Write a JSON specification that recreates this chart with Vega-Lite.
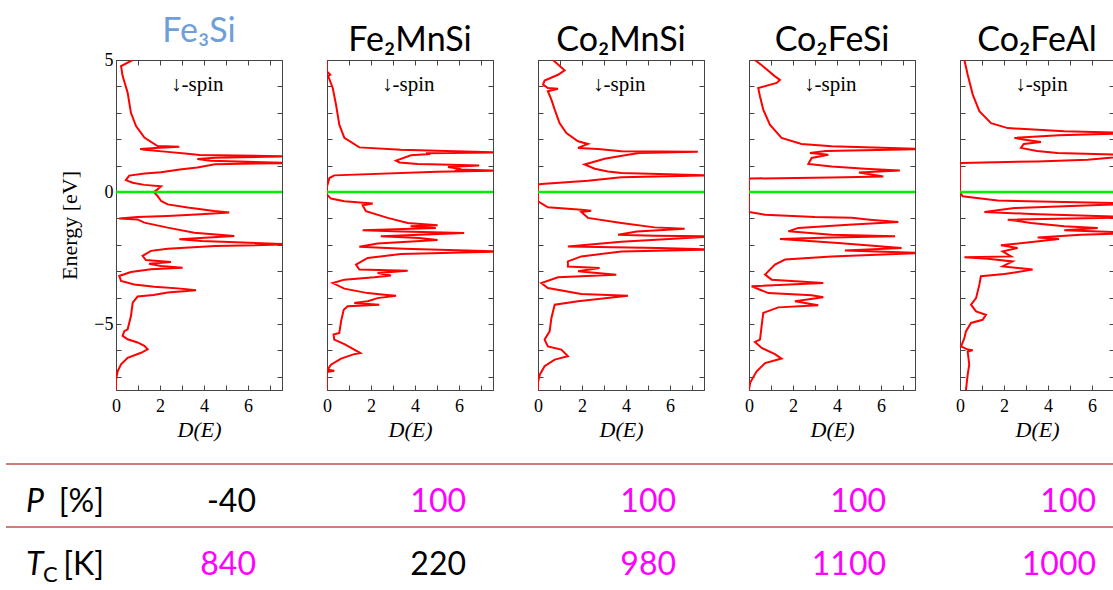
{
"$schema": "https://vega.github.io/schema/vega-lite/v6.json",
"background": "white",
"padding": {"left": 5, "top": 14, "right": 0, "bottom": 0},
"spacing": 22,
"config": {
  "view": {"stroke": "#444", "strokeWidth": 1},
  "axis": {"domainColor": "#444", "tickColor": "#444", "tickSize": -5, "grid": false, "labelFont": "Liberation Serif", "labelFontSize": 18, "labelColor": "#000", "titleFont": "Liberation Serif", "titleFontWeight": "normal", "titleColor": "#000", "labelFlush": false, "labelOverlap": false},
  "title": {"font": "Lato", "fontSize": 34, "fontWeight": "normal", "color": "#000", "frame": "group", "anchor": "middle", "offset": 2}
},
"datasets": {
  "fe3si": [{"D":0.76,"E":5.0},{"D":0.23,"E":4.77},{"D":0.3,"E":4.4},{"D":0.53,"E":3.76},{"D":0.68,"E":3.0},{"D":0.91,"E":2.5},{"D":1.29,"E":2.06},{"D":1.89,"E":1.74},{"D":2.88,"E":1.71},{"D":1.8,"E":1.67},{"D":1.1,"E":1.63},{"D":1.3,"E":1.6},{"D":2.35,"E":1.52},{"D":3.26,"E":1.45},{"D":3.8,"E":1.4},{"D":8,"E":1.35},{"D":4.5,"E":1.3},{"D":3.7,"E":1.25},{"D":4.3,"E":1.18},{"D":8,"E":1.1},{"D":4.5,"E":1.05},{"D":3.7,"E":0.93},{"D":2.9,"E":0.85},{"D":2.05,"E":0.75},{"D":1.3,"E":0.7},{"D":0.6,"E":0.62},{"D":0.45,"E":0.45},{"D":0.76,"E":0.35},{"D":1.29,"E":0.27},{"D":2.05,"E":0.22},{"D":1.89,"E":0.1},{"D":1.72,"E":0.0},{"D":1.89,"E":-0.15},{"D":2.05,"E":-0.34},{"D":2.35,"E":-0.47},{"D":3.26,"E":-0.59},{"D":4.47,"E":-0.72},{"D":5.15,"E":-0.78},{"D":3.86,"E":-0.84},{"D":2.35,"E":-0.91},{"D":0.98,"E":-0.95},{"D":0.15,"E":-1.0},{"D":0.98,"E":-1.04},{"D":1.29,"E":-1.16},{"D":2.35,"E":-1.35},{"D":3.56,"E":-1.54},{"D":5.38,"E":-1.67},{"D":4.02,"E":-1.73},{"D":2.88,"E":-1.79},{"D":3.9,"E":-1.86},{"D":8,"E":-1.98},{"D":4.5,"E":-2.05},{"D":2.35,"E":-2.15},{"D":1.59,"E":-2.23},{"D":1.21,"E":-2.42},{"D":1.36,"E":-2.58},{"D":2.5,"E":-2.65},{"D":1.5,"E":-2.72},{"D":2.05,"E":-2.8},{"D":3.03,"E":-2.87},{"D":1.59,"E":-2.93},{"D":0.68,"E":-3.03},{"D":0.15,"E":-3.18},{"D":0.23,"E":-3.37},{"D":0.83,"E":-3.5},{"D":1.74,"E":-3.59},{"D":2.95,"E":-3.66},{"D":3.64,"E":-3.72},{"D":2.35,"E":-3.81},{"D":1.7,"E":-3.9},{"D":0.98,"E":-3.96},{"D":0.76,"E":-4.19},{"D":0.68,"E":-4.7},{"D":0.53,"E":-5.2},{"D":0.38,"E":-5.27},{"D":0.3,"E":-5.45},{"D":0.53,"E":-5.58},{"D":0.98,"E":-5.7},{"D":1.29,"E":-5.83},{"D":1.44,"E":-5.96},{"D":1.14,"E":-6.09},{"D":0.53,"E":-6.28},{"D":0.23,"E":-6.53},{"D":0.08,"E":-6.78},{"D":0,"E":-7.1},{"D":0,"E":-7.5}],
  "fe2mnsi": [{"D":0,"E":5.0},{"D":0,"E":4.57},{"D":0.15,"E":4.44},{"D":0.05,"E":4.4},{"D":0.26,"E":3.94},{"D":0.41,"E":3.31},{"D":0.56,"E":2.55},{"D":0.79,"E":2.05},{"D":1.47,"E":1.69},{"D":3.36,"E":1.6},{"D":8,"E":1.5},{"D":4.5,"E":1.47},{"D":4.7,"E":1.44},{"D":3.82,"E":1.39},{"D":3.14,"E":1.19},{"D":3.3,"E":1.12},{"D":4.12,"E":1.06},{"D":5.18,"E":1.04},{"D":6.92,"E":1.0},{"D":5.5,"E":0.95},{"D":6.0,"E":0.88},{"D":5.94,"E":0.85},{"D":8,"E":0.81},{"D":5,"E":0.77},{"D":0.33,"E":0.63},{"D":0.11,"E":0.53},{"D":0,"E":0.21},{"D":0,"E":-0.1},{"D":0.18,"E":-0.25},{"D":0.79,"E":-0.35},{"D":2.08,"E":-0.44},{"D":1.62,"E":-0.5},{"D":1.77,"E":-0.73},{"D":2.76,"E":-0.98},{"D":3.67,"E":-1.17},{"D":5.03,"E":-1.26},{"D":3.8,"E":-1.3},{"D":4.95,"E":-1.36},{"D":1.62,"E":-1.45},{"D":3.4,"E":-1.5},{"D":6.24,"E":-1.55},{"D":2.45,"E":-1.68},{"D":4.2,"E":-1.74},{"D":5.03,"E":-1.82},{"D":2.3,"E":-1.95},{"D":1.47,"E":-2.07},{"D":3.5,"E":-2.15},{"D":8,"E":-2.25},{"D":3.36,"E":-2.35},{"D":1.85,"E":-2.5},{"D":1.32,"E":-2.75},{"D":1.47,"E":-2.94},{"D":3.67,"E":-2.98},{"D":2.3,"E":-3.07},{"D":2.91,"E":-3.16},{"D":2.15,"E":-3.23},{"D":0.79,"E":-3.32},{"D":0.26,"E":-3.45},{"D":0.79,"E":-3.66},{"D":1.85,"E":-3.83},{"D":2.61,"E":-3.89},{"D":3.14,"E":-3.93},{"D":2.3,"E":-4.02},{"D":1.85,"E":-4.14},{"D":1.24,"E":-4.2},{"D":2.38,"E":-4.27},{"D":0.94,"E":-4.33},{"D":0.76,"E":-4.46},{"D":0.64,"E":-4.9},{"D":0.56,"E":-5.34},{"D":0.3,"E":-5.4},{"D":0.33,"E":-5.59},{"D":0.79,"E":-5.76},{"D":1.24,"E":-5.97},{"D":1.52,"E":-6.1},{"D":1.2,"E":-6.15},{"D":0.64,"E":-6.31},{"D":0.18,"E":-6.54},{"D":0.03,"E":-6.73},{"D":0.33,"E":-6.77},{"D":0,"E":-6.82},{"D":0,"E":-7.5}],
  "co2mnsi": [{"D":0.68,"E":5.0},{"D":1.21,"E":4.61},{"D":0.91,"E":4.44},{"D":0.3,"E":4.22},{"D":0.23,"E":4.07},{"D":0.45,"E":3.94},{"D":0.91,"E":3.91},{"D":0.45,"E":3.82},{"D":0.61,"E":3.5},{"D":0.76,"E":3.12},{"D":0.98,"E":2.61},{"D":1.29,"E":2.23},{"D":1.82,"E":1.92},{"D":2.27,"E":1.82},{"D":1.82,"E":1.67},{"D":2.73,"E":1.63},{"D":3.79,"E":1.54},{"D":7.27,"E":1.52},{"D":4.62,"E":1.48},{"D":4.09,"E":1.41},{"D":3.03,"E":1.26},{"D":2.12,"E":1.04},{"D":2.58,"E":0.88},{"D":3.18,"E":0.78},{"D":3.79,"E":0.72},{"D":5.5,"E":0.68},{"D":8,"E":0.63},{"D":3.79,"E":0.56},{"D":2.27,"E":0.43},{"D":0.15,"E":0.3},{"D":0,"E":0.28},{"D":0,"E":-0.35},{"D":0.45,"E":-0.58},{"D":1.97,"E":-0.67},{"D":2.42,"E":-0.71},{"D":1.97,"E":-0.76},{"D":2.27,"E":-0.98},{"D":3.79,"E":-1.17},{"D":5.3,"E":-1.34},{"D":6.67,"E":-1.39},{"D":4.5,"E":-1.5},{"D":3.64,"E":-1.62},{"D":5.3,"E":-1.66},{"D":8,"E":-1.68},{"D":3.79,"E":-1.88},{"D":1.36,"E":-2.06},{"D":5.5,"E":-2.12},{"D":8,"E":-2.18},{"D":3.79,"E":-2.25},{"D":1.97,"E":-2.44},{"D":1.36,"E":-2.63},{"D":1.36,"E":-2.82},{"D":2.8,"E":-2.88},{"D":1.82,"E":-3.0},{"D":3.56,"E":-3.13},{"D":0.91,"E":-3.23},{"D":0.15,"E":-3.45},{"D":0.45,"E":-3.64},{"D":1.97,"E":-3.86},{"D":4.09,"E":-3.93},{"D":1.82,"E":-4.14},{"D":0.76,"E":-4.27},{"D":0.61,"E":-4.77},{"D":0.53,"E":-5.28},{"D":0.3,"E":-5.59},{"D":0.45,"E":-5.85},{"D":1.06,"E":-5.97},{"D":1.36,"E":-6.22},{"D":0.76,"E":-6.35},{"D":0.3,"E":-6.6},{"D":0.08,"E":-6.92},{"D":0,"E":-7.2},{"D":0,"E":-7.5}],
  "co2fesi": [{"D":0.27,"E":5.0},{"D":0.73,"E":4.7},{"D":1.18,"E":4.38},{"D":1.41,"E":4.25},{"D":1.26,"E":4.13},{"D":0.42,"E":3.94},{"D":0.5,"E":3.62},{"D":0.65,"E":3.12},{"D":0.95,"E":2.55},{"D":1.48,"E":2.05},{"D":2.39,"E":1.82},{"D":3.76,"E":1.73},{"D":8,"E":1.63},{"D":3.5,"E":1.55},{"D":2.77,"E":1.48},{"D":3.61,"E":1.41},{"D":2.85,"E":1.29},{"D":2.7,"E":1.06},{"D":3.76,"E":0.97},{"D":5.27,"E":0.88},{"D":6.86,"E":0.81},{"D":5.0,"E":0.74},{"D":6.11,"E":0.59},{"D":3.76,"E":0.55},{"D":0.05,"E":0.51},{"D":0,"E":0.47},{"D":0,"E":-0.76},{"D":0.73,"E":-0.86},{"D":3.0,"E":-0.95},{"D":4.67,"E":-0.98},{"D":5.5,"E":-1.05},{"D":6.79,"E":-1.14},{"D":4.52,"E":-1.24},{"D":2.24,"E":-1.36},{"D":1.79,"E":-1.49},{"D":3.76,"E":-1.62},{"D":6.64,"E":-1.68},{"D":3.76,"E":-1.72},{"D":1.41,"E":-1.78},{"D":4.06,"E":-1.93},{"D":6.94,"E":-2.12},{"D":4.36,"E":-2.22},{"D":8,"E":-2.31},{"D":3.76,"E":-2.44},{"D":1.64,"E":-2.56},{"D":1.18,"E":-2.75},{"D":0.73,"E":-3.13},{"D":1.03,"E":-3.32},{"D":3.38,"E":-3.45},{"D":0.12,"E":-3.57},{"D":0.88,"E":-3.83},{"D":2.85,"E":-3.91},{"D":3.38,"E":-3.99},{"D":2.09,"E":-4.14},{"D":3.15,"E":-4.29},{"D":1.33,"E":-4.37},{"D":0.65,"E":-4.58},{"D":0.58,"E":-5.03},{"D":0.5,"E":-5.59},{"D":0.27,"E":-5.68},{"D":0.58,"E":-5.91},{"D":1.18,"E":-6.14},{"D":1.48,"E":-6.31},{"D":0.73,"E":-6.48},{"D":0.35,"E":-6.79},{"D":0.05,"E":-7.23},{"D":0,"E":-7.5}],
  "co2feal": [{"D":0.2,"E":5.0},{"D":0.35,"E":4.44},{"D":0.58,"E":3.69},{"D":0.88,"E":3.06},{"D":1.41,"E":2.61},{"D":2.17,"E":2.42},{"D":4.74,"E":2.3},{"D":8,"E":2.23},{"D":4.5,"E":2.15},{"D":2.47,"E":2.05},{"D":2.8,"E":2.0},{"D":3.68,"E":1.89},{"D":2.9,"E":1.82},{"D":2.77,"E":1.67},{"D":3.5,"E":1.55},{"D":4.44,"E":1.48},{"D":8,"E":1.39},{"D":5.8,"E":1.22},{"D":3.5,"E":1.16},{"D":0.08,"E":1.1},{"D":0,"E":1.06},{"D":0,"E":0},{"D":0.12,"E":-0.16},{"D":1.71,"E":-0.32},{"D":4.74,"E":-0.38},{"D":8,"E":-0.44},{"D":2.47,"E":-0.61},{"D":1.11,"E":-0.76},{"D":3.23,"E":-0.83},{"D":8,"E":-0.96},{"D":2.17,"E":-1.05},{"D":3.23,"E":-1.17},{"D":4.74,"E":-1.3},{"D":6.26,"E":-1.36},{"D":4.74,"E":-1.45},{"D":8,"E":-1.55},{"D":5.5,"E":-1.62},{"D":3.53,"E":-1.72},{"D":4.5,"E":-1.78},{"D":1.86,"E":-2.02},{"D":2.62,"E":-2.12},{"D":1.94,"E":-2.25},{"D":2.32,"E":-2.44},{"D":0.2,"E":-2.47},{"D":1.26,"E":-2.53},{"D":2.39,"E":-2.63},{"D":1.94,"E":-2.82},{"D":3.3,"E":-2.94},{"D":2.02,"E":-3.11},{"D":0.95,"E":-3.19},{"D":0.88,"E":-3.51},{"D":0.73,"E":-4.02},{"D":0.5,"E":-4.27},{"D":0.73,"E":-4.52},{"D":1.18,"E":-4.65},{"D":1.03,"E":-4.84},{"D":0.5,"E":-4.96},{"D":0.27,"E":-5.28},{"D":0.2,"E":-5.53},{"D":0.05,"E":-5.85},{"D":0.35,"E":-5.97},{"D":0.58,"E":-5.99},{"D":0.35,"E":-6.05},{"D":0.42,"E":-6.54},{"D":0.35,"E":-6.92},{"D":0.27,"E":-7.5}],
  "values": [{"row":"P","col":"Fe3Si","value":"-40","emphasis":"no"},{"row":"P","col":"Fe2MnSi","value":"100","emphasis":"yes"},{"row":"P","col":"Co2MnSi","value":"100","emphasis":"yes"},{"row":"P","col":"Co2FeSi","value":"100","emphasis":"yes"},{"row":"P","col":"Co2FeAl","value":"100","emphasis":"yes"},{"row":"T","col":"Fe3Si","value":"840","emphasis":"yes"},{"row":"T","col":"Fe2MnSi","value":"220","emphasis":"no"},{"row":"T","col":"Co2MnSi","value":"980","emphasis":"yes"},{"row":"T","col":"Co2FeSi","value":"1100","emphasis":"yes"},{"row":"T","col":"Co2FeAl","value":"1000","emphasis":"yes"}],
  "rowlabels": [{"row":"P","col":"label","symbol":"P","sub":"","unit":"[%]"},{"row":"T","col":"label","symbol":"T","sub":"C","unit":"[K]"}]
},
"vconcat": [
{"bounds": "flush", "spacing": 45, "hconcat": [
  {"width": 65, "height": 330, "view": {"stroke": null}, "data": {"values": []}, "mark": "point"},
  {"width": 166, "height": 330, "title": {"text": "Fe₃Si", "color": "#6f9fd8"},
   "layer": [
    {"data": {"name": "fe3si"}, "mark": {"type": "line", "color": "#ff0000", "strokeWidth": 2, "clip": true},
     "encoding": {"x": {"field": "D", "type": "quantitative", "scale": {"domain": [0, 7.55], "nice": false, "zero": false}, "axis": {"orient": "bottom", "values": [0,1,2,3,4,5,6,7], "labelExpr": "datum.value % 2 === 0 ? datum.label : ''", "title": "D(E)", "titleFontStyle": "italic", "titleFontSize": 22, "labelPadding": 12, "titlePadding": 4}},
       "y": {"field": "E", "type": "quantitative", "scale": {"domain": [-7.5, 5], "nice": false, "zero": false}, "axis": {"orient": "left", "values": [-7,-6,-5,-4,-3,-2,-1,0,1,2,3,4,5], "labelExpr": "datum.value % 5 === 0 ? (datum.value < 0 ? '−' + abs(datum.value) : datum.label) : ''", "title": "Energy [eV]", "titleFontSize": 22, "labelPadding": 8, "titlePadding": 12}},
       "order": {"value": null}}},
    {"data": {"values": [{"E": 0}]}, "mark": {"type": "rule", "color": "#00ee00", "strokeWidth": 2.5},
     "encoding": {"y": {"field": "E", "type": "quantitative", "scale": {"domain": [-7.5, 5], "nice": false, "zero": false}, "axis": null}}},
    {"data": {"values": [{"label": "↓-spin"}]}, "mark": {"type": "text", "font": "Liberation Serif", "fontSize": 21, "color": "#000"},
     "encoding": {"x": {"datum": 3.7, "type": "quantitative", "scale": {"domain": [0, 7.55], "nice": false, "zero": false}, "axis": {"orient": "top", "values": [0,1,2,3,4,5,6,7], "labels": false, "title": null}},
       "y": {"datum": 4.05, "type": "quantitative", "scale": {"domain": [-7.5, 5], "nice": false, "zero": false}, "axis": {"orient": "right", "values": [-7,-6,-5,-4,-3,-2,-1,0,1,2,3,4,5], "labels": false, "title": null}},
       "text": {"field": "label"}}}
   ],
   "resolve": {"axis": {"x": "independent", "y": "independent"}}},
  {"width": 166, "height": 330, "title": {"text": "Fe₂MnSi"},
   "layer": [
    {"data": {"name": "fe2mnsi"}, "mark": {"type": "line", "color": "#ff0000", "strokeWidth": 2, "clip": true},
     "encoding": {"x": {"field": "D", "type": "quantitative", "scale": {"domain": [0, 7.55], "nice": false, "zero": false}, "axis": {"orient": "bottom", "values": [0,1,2,3,4,5,6,7], "labelExpr": "datum.value % 2 === 0 ? datum.label : ''", "title": "D(E)", "titleFontStyle": "italic", "titleFontSize": 22, "labelPadding": 12, "titlePadding": 4}},
       "y": {"field": "E", "type": "quantitative", "scale": {"domain": [-7.5, 5], "nice": false, "zero": false}, "axis": {"orient": "left", "values": [-7,-6,-5,-4,-3,-2,-1,0,1,2,3,4,5], "labels": false, "title": null}},
       "order": {"value": null}}},
    {"data": {"values": [{"E": 0}]}, "mark": {"type": "rule", "color": "#00ee00", "strokeWidth": 2.5},
     "encoding": {"y": {"field": "E", "type": "quantitative", "scale": {"domain": [-7.5, 5], "nice": false, "zero": false}, "axis": null}}},
    {"data": {"values": [{"label": "↓-spin"}]}, "mark": {"type": "text", "font": "Liberation Serif", "fontSize": 21, "color": "#000"},
     "encoding": {"x": {"datum": 3.7, "type": "quantitative", "scale": {"domain": [0, 7.55], "nice": false, "zero": false}, "axis": {"orient": "top", "values": [0,1,2,3,4,5,6,7], "labels": false, "title": null}},
       "y": {"datum": 4.05, "type": "quantitative", "scale": {"domain": [-7.5, 5], "nice": false, "zero": false}, "axis": {"orient": "right", "values": [-7,-6,-5,-4,-3,-2,-1,0,1,2,3,4,5], "labels": false, "title": null}},
       "text": {"field": "label"}}}
   ],
   "resolve": {"axis": {"x": "independent", "y": "independent"}}},
  {"width": 166, "height": 330, "title": {"text": "Co₂MnSi"},
   "layer": [
    {"data": {"name": "co2mnsi"}, "mark": {"type": "line", "color": "#ff0000", "strokeWidth": 2, "clip": true},
     "encoding": {"x": {"field": "D", "type": "quantitative", "scale": {"domain": [0, 7.55], "nice": false, "zero": false}, "axis": {"orient": "bottom", "values": [0,1,2,3,4,5,6,7], "labelExpr": "datum.value % 2 === 0 ? datum.label : ''", "title": "D(E)", "titleFontStyle": "italic", "titleFontSize": 22, "labelPadding": 12, "titlePadding": 4}},
       "y": {"field": "E", "type": "quantitative", "scale": {"domain": [-7.5, 5], "nice": false, "zero": false}, "axis": {"orient": "left", "values": [-7,-6,-5,-4,-3,-2,-1,0,1,2,3,4,5], "labels": false, "title": null}},
       "order": {"value": null}}},
    {"data": {"values": [{"E": 0}]}, "mark": {"type": "rule", "color": "#00ee00", "strokeWidth": 2.5},
     "encoding": {"y": {"field": "E", "type": "quantitative", "scale": {"domain": [-7.5, 5], "nice": false, "zero": false}, "axis": null}}},
    {"data": {"values": [{"label": "↓-spin"}]}, "mark": {"type": "text", "font": "Liberation Serif", "fontSize": 21, "color": "#000"},
     "encoding": {"x": {"datum": 3.7, "type": "quantitative", "scale": {"domain": [0, 7.55], "nice": false, "zero": false}, "axis": {"orient": "top", "values": [0,1,2,3,4,5,6,7], "labels": false, "title": null}},
       "y": {"datum": 4.05, "type": "quantitative", "scale": {"domain": [-7.5, 5], "nice": false, "zero": false}, "axis": {"orient": "right", "values": [-7,-6,-5,-4,-3,-2,-1,0,1,2,3,4,5], "labels": false, "title": null}},
       "text": {"field": "label"}}}
   ],
   "resolve": {"axis": {"x": "independent", "y": "independent"}}},
  {"width": 166, "height": 330, "title": {"text": "Co₂FeSi"},
   "layer": [
    {"data": {"name": "co2fesi"}, "mark": {"type": "line", "color": "#ff0000", "strokeWidth": 2, "clip": true},
     "encoding": {"x": {"field": "D", "type": "quantitative", "scale": {"domain": [0, 7.55], "nice": false, "zero": false}, "axis": {"orient": "bottom", "values": [0,1,2,3,4,5,6,7], "labelExpr": "datum.value % 2 === 0 ? datum.label : ''", "title": "D(E)", "titleFontStyle": "italic", "titleFontSize": 22, "labelPadding": 12, "titlePadding": 4}},
       "y": {"field": "E", "type": "quantitative", "scale": {"domain": [-7.5, 5], "nice": false, "zero": false}, "axis": {"orient": "left", "values": [-7,-6,-5,-4,-3,-2,-1,0,1,2,3,4,5], "labels": false, "title": null}},
       "order": {"value": null}}},
    {"data": {"values": [{"E": 0}]}, "mark": {"type": "rule", "color": "#00ee00", "strokeWidth": 2.5},
     "encoding": {"y": {"field": "E", "type": "quantitative", "scale": {"domain": [-7.5, 5], "nice": false, "zero": false}, "axis": null}}},
    {"data": {"values": [{"label": "↓-spin"}]}, "mark": {"type": "text", "font": "Liberation Serif", "fontSize": 21, "color": "#000"},
     "encoding": {"x": {"datum": 3.7, "type": "quantitative", "scale": {"domain": [0, 7.55], "nice": false, "zero": false}, "axis": {"orient": "top", "values": [0,1,2,3,4,5,6,7], "labels": false, "title": null}},
       "y": {"datum": 4.05, "type": "quantitative", "scale": {"domain": [-7.5, 5], "nice": false, "zero": false}, "axis": {"orient": "right", "values": [-7,-6,-5,-4,-3,-2,-1,0,1,2,3,4,5], "labels": false, "title": null}},
       "text": {"field": "label"}}}
   ],
   "resolve": {"axis": {"x": "independent", "y": "independent"}}},
  {"width": 154, "height": 330, "title": {"text": "Co₂FeAl"},
   "layer": [
    {"data": {"name": "co2feal"}, "mark": {"type": "line", "color": "#ff0000", "strokeWidth": 2, "clip": true},
     "encoding": {"x": {"field": "D", "type": "quantitative", "scale": {"domain": [0, 7.0], "nice": false, "zero": false}, "axis": {"orient": "bottom", "values": [0,1,2,3,4,5,6,7], "labelExpr": "datum.value % 2 === 0 ? datum.label : ''", "title": "D(E)", "titleFontStyle": "italic", "titleFontSize": 22, "labelPadding": 12, "titlePadding": 4}},
       "y": {"field": "E", "type": "quantitative", "scale": {"domain": [-7.5, 5], "nice": false, "zero": false}, "axis": {"orient": "left", "values": [-7,-6,-5,-4,-3,-2,-1,0,1,2,3,4,5], "labels": false, "title": null}},
       "order": {"value": null}}},
    {"data": {"values": [{"E": 0}]}, "mark": {"type": "rule", "color": "#00ee00", "strokeWidth": 2.5},
     "encoding": {"y": {"field": "E", "type": "quantitative", "scale": {"domain": [-7.5, 5], "nice": false, "zero": false}, "axis": null}}},
    {"data": {"values": [{"label": "↓-spin"}]}, "mark": {"type": "text", "font": "Liberation Serif", "fontSize": 21, "color": "#000"},
     "encoding": {"x": {"datum": 3.7, "type": "quantitative", "scale": {"domain": [0, 7.0], "nice": false, "zero": false}, "axis": {"orient": "top", "values": [0,1,2,3,4,5,6,7], "labels": false, "title": null}},
       "y": {"datum": 4.05, "type": "quantitative", "scale": {"domain": [-7.5, 5], "nice": false, "zero": false}, "axis": {"orient": "right", "values": [-7,-6,-5,-4,-3,-2,-1,0,1,2,3,4,5], "labels": false, "title": null}},
       "text": {"field": "label"}}}
   ],
   "resolve": {"axis": {"x": "independent", "y": "independent"}}}
]},
{"width": 1108, "height": 126, "view": {"stroke": null},
 "layer": [
  {"data": {"values": [{"row": "P"}, {"row": "T"}]}, "mark": {"type": "rule", "color": "#c0504d", "strokeWidth": 1.5},
   "encoding": {"y": {"field": "row", "type": "nominal", "bandPosition": 0, "scale": {"type": "band", "domain": ["P", "T"], "paddingInner": 0, "paddingOuter": 0}, "axis": null}}},
  {"data": {"name": "values"}, "mark": {"type": "text", "font": "Lato", "fontSize": 32, "align": "right", "baseline": "middle"},
   "encoding": {"x": {"field": "col", "type": "nominal", "scale": {"type": "point", "domain": ["label", "Fe3Si", "Fe2MnSi", "Co2MnSi", "Co2FeSi", "Co2FeAl"], "padding": 0.138, "align": 0.69}, "axis": null},
     "y": {"field": "row", "type": "nominal", "bandPosition": 0.6, "axis": null},
     "text": {"field": "value"},
     "color": {"field": "emphasis", "type": "nominal", "scale": {"domain": ["no", "yes"], "range": ["#000000", "#ff00ff"]}, "legend": null}}},
  {"data": {"name": "rowlabels"}, "mark": {"type": "text", "font": "Lato", "fontSize": 32, "fontStyle": "italic", "align": "left", "baseline": "middle", "dx": -20, "color": "#000"},
   "encoding": {"x": {"field": "col", "type": "nominal", "axis": null}, "y": {"field": "row", "type": "nominal", "bandPosition": 0.6, "axis": null}, "text": {"field": "symbol"}}},
  {"data": {"name": "rowlabels"}, "mark": {"type": "text", "font": "Lato", "fontSize": 22, "align": "left", "baseline": "middle", "dx": -3, "dy": 10, "color": "#000"},
   "encoding": {"x": {"field": "col", "type": "nominal", "axis": null}, "y": {"field": "row", "type": "nominal", "bandPosition": 0.6, "axis": null}, "text": {"field": "sub"}}},
  {"data": {"name": "rowlabels"}, "mark": {"type": "text", "font": "Lato", "fontSize": 32, "align": "right", "baseline": "middle", "dx": 58, "color": "#000"},
   "encoding": {"x": {"field": "col", "type": "nominal", "axis": null}, "y": {"field": "row", "type": "nominal", "bandPosition": 0.6, "axis": null}, "text": {"field": "unit"}}}
 ]}
]
}
